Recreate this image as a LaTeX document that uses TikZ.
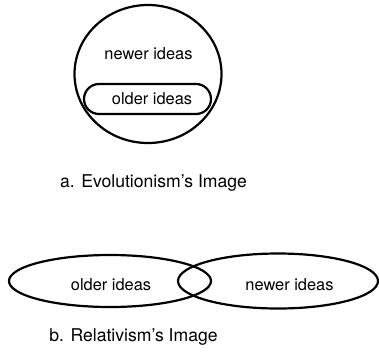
\documentclass[tikz,border=0pt]{standalone}
\usepackage{fontspec}
\setmainfont{TeX Gyre Heros}
\usepackage{tikz}
\usetikzlibrary{shapes.geometric,positioning}

\begin{document}
\begin{tikzpicture}[
    x=1pt, y=-1pt,
    font=\fontsize{16.4}{19}\selectfont,
    outline/.style={draw, line width=2.2pt, inner sep=0pt},
    oval/.style={outline, ellipse},
    pill/.style={outline, rectangle, rounded corners=15pt},
    caption/.style={font=\fontsize{17.6}{20}\selectfont}
]
\useasboundingbox (0,0) rectangle (379,351);
% a. evolutionism
\node[oval, minimum width=147pt, minimum height=138pt] (whole) at (148,74) {};
\node (newtop) at (148.5,54) {newer ideas};
\node[pill, minimum width=127pt, minimum height=30pt] (core) at (147.5,99) {};
\node (oldtop) at (152,99) {older ideas};
\node[caption] (capa) at (153.5,183) {a. Evolutionism’s Image};
% b. relativism
\node[oval, minimum width=202pt, minimum height=52pt] (oldside) at (110,281) {};
\node[oval, minimum width=200pt, minimum height=55pt] (newside) at (278,281) {};
\node (oldlabel) at (111,285) {older ideas};
\node (newlabel) at (289.5,285) {newer ideas};
\node[caption] (capb) at (133.5,337) {b. Relativism’s Image};
\end{tikzpicture}
\end{document}
